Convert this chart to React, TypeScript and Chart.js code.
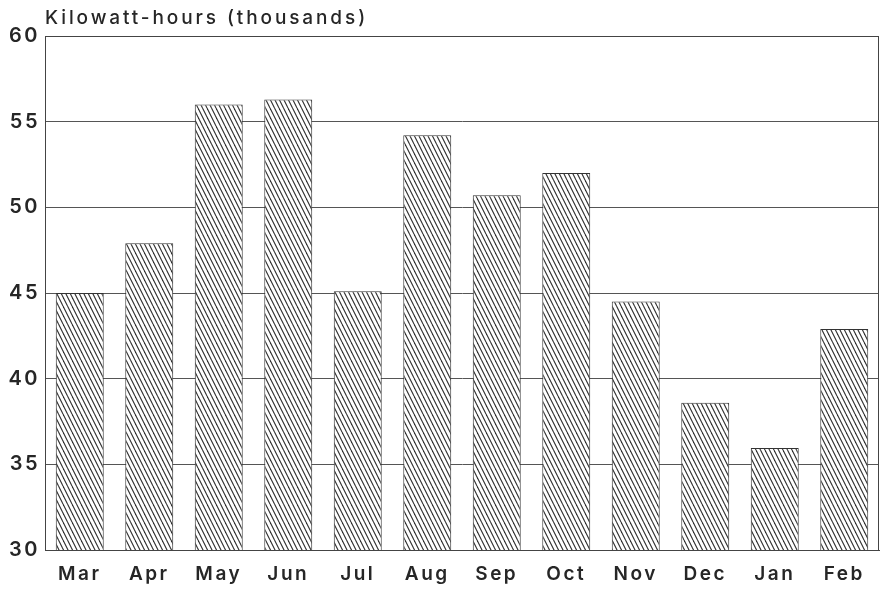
import React, { useEffect, useRef } from 'react';
import { Chart, registerables } from 'chart.js';

Chart.register(...registerables);

const categories = ['Mar', 'Apr', 'May', 'Jun', 'Jul', 'Aug', 'Sep', 'Oct', 'Nov', 'Dec', 'Jan', 'Feb'];
const kwhThousands = [45.0, 47.9, 56.0, 56.3, 45.1, 54.2, 50.7, 52.0, 44.5, 38.6, 35.95, 42.9];
const yTicks = [30, 35, 40, 45, 50, 55, 60];
const axisTitle = 'Kilowatt-hours (thousands)';

const FONT = "Inter, 'Liberation Sans', sans-serif";
const INK = '#262626';

function makeHatch(ctx: CanvasRenderingContext2D): CanvasPattern | string {
  const c = document.createElement('canvas');
  c.width = 9;
  c.height = 18;
  const g = c.getContext('2d');
  if (!g) return '#999';
  g.fillStyle = '#ffffff';
  g.fillRect(0, 0, 9, 18);
  g.strokeStyle = '#2e2e2e';
  g.lineWidth = 1.1;
  for (const off of [-9, -4.5, 0, 4.5, 9]) {
    g.beginPath();
    g.moveTo(off, 0);
    g.lineTo(off + 9, 18);
    g.stroke();
  }
  return ctx.createPattern(c, 'repeat') || '#999';
}

const spacingPlugin = {
  id: 'spacing',
  beforeUpdate(chart: any) {
    chart.ctx.letterSpacing = '2.5px';
  },
  beforeDraw(chart: any) {
    chart.ctx.letterSpacing = '2.5px';
  },
};

const framePlugin = {
  id: 'frame',
  afterDraw(chart: any) {
    const { ctx, chartArea } = chart;
    ctx.save();
    ctx.strokeStyle = '#444';
    ctx.lineWidth = 1;
    ctx.strokeRect(chartArea.left + 0.5, chartArea.top + 0.5, chartArea.right - chartArea.left - 1, chartArea.bottom - chartArea.top);
    ctx.letterSpacing = '2.9px';
    ctx.fillStyle = INK;
    ctx.font = `500 19px ${FONT}`;
    ctx.textAlign = 'left';
    ctx.textBaseline = 'alphabetic';
    ctx.fillText(axisTitle, chartArea.left, 24);
    ctx.restore();
  },
};

export default function App() {
  const ref = useRef<HTMLCanvasElement>(null);
  useEffect(() => {
    const canvas = ref.current;
    if (!canvas) return;
    const ctx = canvas.getContext('2d')!;
    const hatch = makeHatch(ctx);
    const chart = new Chart(ctx, {
      type: 'bar',
      data: {
        labels: categories,
        datasets: [
          {
            data: kwhThousands,
            backgroundColor: hatch as any,
            borderColor: '#333',
            borderWidth: 1,
            barPercentage: 0.69,
            categoryPercentage: 1,
          },
        ],
      },
      options: {
        responsive: false,
        animation: false,
        layout: { padding: { top: 36, right: 1, left: 0, bottom: 0 } },
        plugins: { legend: { display: false }, title: { display: false }, tooltip: { enabled: false } },
        scales: {
          x: {
            grid: { display: false },
            border: { display: true, color: '#444' },
            afterFit(axis: any) {
              axis.height = 40;
            },
            ticks: { color: INK, font: { family: FONT, size: 19, weight: '600' }, padding: 5 },
          },
          y: {
            min: 30,
            max: 60,
            afterBuildTicks(axis: any) {
              axis.ticks = yTicks.map((v) => ({ value: v }));
            },
            afterFit(axis: any) {
              axis.width = 45;
            },
            grid: { color: '#555', drawTicks: false, lineWidth: 1 },
            border: { display: true, color: '#444' },
            ticks: { color: INK, font: { family: FONT, size: 20, weight: '600' }, padding: 5 },
          },
        },
      },
      plugins: [spacingPlugin, framePlugin],
    });
    return () => chart.destroy();
  }, []);
  return (
    <div style={{ position: 'fixed', left: 0, top: 0, width: 880, height: 590, background: '#fff' }}>
      <canvas ref={ref} width={880} height={590} />
    </div>
  );
}
